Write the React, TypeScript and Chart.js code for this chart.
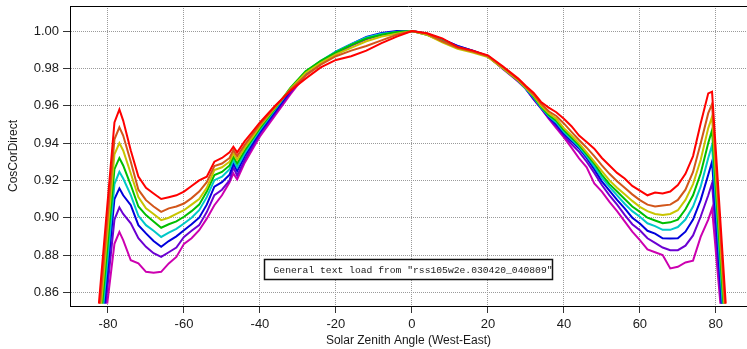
import React, { useEffect, useRef } from "react";
import { Chart, registerables } from "chart.js";

Chart.register(...registerables);

// Solar zenith angle grid shared by all series (interior points)
const ANGLES = [
  -78.3, -77, -76, -74, -72, -70, -68, -66, -64, -62,
  -60, -58, -56, -54, -52, -50, -48, -47, -46, -44,
  -42, -40, -36, -32, -28, -24, -20, -16, -12, -8,
  -4, 0, 4, 8, 12, 16, 20, 24, 28, 30,
  32, 34, 36, 38, 40, 42, 44, 46, 48, 50,
  52, 54, 56, 58, 60, 62, 64, 66, 68, 70,
  72, 74, 76, 78, 79,
];

// Where each curve leaves / reaches the bottom edge
const START_ANGLES = [-82.4, -82.1, -81.8, -81.5, -81.2, -80.9, -80.6, -80.2];
const END_ANGLES = [82.6, 82.4, 82.2, 82.0, 81.8, 81.6, 81.4, 81.2];
const EDGE_VALUE = 0.854;

const RED = [
  0.951, 0.958, 0.952, 0.936, 0.922, 0.916, 0.913, 0.910, 0.911, 0.912,
  0.914, 0.917, 0.920, 0.922, 0.930, 0.932, 0.935, 0.938, 0.935, 0.941,
  0.946, 0.951, 0.960, 0.968, 0.9745, 0.9805, 0.9845, 0.9865, 0.9895, 0.9935,
  0.997, 1.0, 0.9988, 0.996, 0.9915, 0.9895, 0.987, 0.981, 0.9745, 0.9705,
  0.967, 0.962, 0.959, 0.9565, 0.953, 0.949, 0.944, 0.9405, 0.937, 0.932,
  0.928, 0.924, 0.921, 0.917, 0.9145, 0.912, 0.9135, 0.913, 0.914, 0.9175,
  0.9235, 0.933, 0.9505, 0.9666, 0.9675,
];
const ORANGE = [
  0.942, 0.9484, 0.944, 0.930, 0.915, 0.9094, 0.906, 0.9031, 0.905, 0.906,
  0.9076, 0.9105, 0.914, 0.919, 0.9276, 0.929, 0.932, 0.9362, 0.933, 0.939,
  0.9445, 0.950, 0.9595, 0.9685, 0.976, 0.982, 0.9865, 0.9895, 0.992, 0.995,
  0.998, 1.0, 0.9985, 0.9945, 0.991, 0.989, 0.9865, 0.9805, 0.974, 0.970,
  0.966, 0.961, 0.957, 0.9545, 0.9505, 0.946, 0.9416, 0.9375, 0.933, 0.928,
  0.9235, 0.9195, 0.916, 0.9125, 0.9094, 0.907, 0.906, 0.9065, 0.907, 0.9095,
  0.915, 0.9245, 0.9398, 0.956, 0.9609,
];
const YELLOW = [
  0.934, 0.940, 0.936, 0.9237, 0.911, 0.905, 0.902, 0.8987, 0.900, 0.902,
  0.904, 0.907, 0.910, 0.916, 0.9255, 0.927, 0.930, 0.9344, 0.931, 0.9375,
  0.943, 0.949, 0.959, 0.969, 0.9775, 0.983, 0.9875, 0.991, 0.9945, 0.997,
  0.9985, 1.0, 0.998, 0.994, 0.9905, 0.9885, 0.986, 0.980, 0.9735, 0.9695,
  0.9655, 0.960, 0.956, 0.953, 0.948, 0.944, 0.9398, 0.935, 0.930, 0.925,
  0.920, 0.916, 0.9125, 0.909, 0.9058, 0.9035, 0.902, 0.9015, 0.902, 0.904,
  0.9095, 0.918, 0.9309, 0.948, 0.954,
];
const GREEN = [
  0.926, 0.932, 0.928, 0.9175, 0.906, 0.9014, 0.898, 0.8946, 0.8965, 0.898,
  0.9005, 0.9035, 0.907, 0.914, 0.9228, 0.9245, 0.928, 0.9326, 0.929, 0.936,
  0.942, 0.948, 0.9585, 0.9695, 0.9785, 0.984, 0.9885, 0.9925, 0.996, 0.998,
  0.9995, 1.0, 0.998, 0.9945, 0.991, 0.989, 0.9865, 0.980, 0.9735, 0.9695,
  0.965, 0.9595, 0.955, 0.952, 0.947, 0.943, 0.9389, 0.934, 0.929, 0.923,
  0.918, 0.914, 0.910, 0.906, 0.9031, 0.900, 0.8985, 0.897, 0.8975, 0.899,
  0.9045, 0.912, 0.9237, 0.940, 0.9469,
];
const CYAN = [
  0.918, 0.9246, 0.921, 0.9121, 0.901, 0.896, 0.893, 0.8897, 0.892, 0.894,
  0.8969, 0.900, 0.904, 0.911, 0.9201, 0.922, 0.926, 0.9309, 0.927, 0.9345,
  0.941, 0.947, 0.958, 0.969, 0.978, 0.984, 0.989, 0.993, 0.9965, 0.9985,
  0.9995, 1.0, 0.9985, 0.995, 0.9915, 0.989, 0.9865, 0.980, 0.9735, 0.969,
  0.9645, 0.959, 0.9545, 0.951, 0.946, 0.942, 0.938, 0.933, 0.9275, 0.9215,
  0.9165, 0.912, 0.9075, 0.9035, 0.9005, 0.897, 0.8955, 0.8935, 0.8935, 0.895,
  0.899, 0.906, 0.9166, 0.932, 0.9389,
];
const BLUE = [
  0.910, 0.9157, 0.912, 0.9067, 0.896, 0.8916, 0.8875, 0.8844, 0.8875, 0.890,
  0.8933, 0.8965, 0.900, 0.907, 0.9166, 0.919, 0.923, 0.9291, 0.925, 0.933,
  0.9395, 0.946, 0.957, 0.968, 0.9775, 0.9835, 0.989, 0.993, 0.9968, 0.999,
  1.0, 1.0, 0.9985, 0.9955, 0.992, 0.9895, 0.9865, 0.980, 0.9735, 0.969,
  0.964, 0.9588, 0.954, 0.950, 0.945, 0.941, 0.9371, 0.932, 0.926, 0.9195,
  0.9145, 0.9095, 0.905, 0.900, 0.8969, 0.893, 0.8915, 0.889, 0.8889, 0.889,
  0.8925, 0.899, 0.9094, 0.923, 0.930,
];
const PURPLE = [
  0.899, 0.9055, 0.902, 0.897, 0.889, 0.8844, 0.881, 0.879, 0.8815, 0.884,
  0.8897, 0.893, 0.896, 0.903, 0.9121, 0.915, 0.920, 0.927, 0.9225, 0.931,
  0.938, 0.945, 0.956, 0.967, 0.977, 0.983, 0.988, 0.9925, 0.996, 0.9985,
  0.9995, 1.0, 0.9985, 0.9955, 0.992, 0.9895, 0.9865, 0.980, 0.973, 0.969,
  0.9635, 0.9585, 0.9535, 0.949, 0.944, 0.9395, 0.9353, 0.930, 0.924, 0.9175,
  0.912, 0.907, 0.9015, 0.8965, 0.8933, 0.889, 0.8865, 0.884, 0.8826, 0.8826,
  0.885, 0.8905, 0.9005, 0.912, 0.9184,
];
const MAGENTA = [
  0.886, 0.8924, 0.888, 0.8772, 0.8755, 0.871, 0.8705, 0.871, 0.8755, 0.879,
  0.886, 0.889, 0.8933, 0.8995, 0.9067, 0.912, 0.919, 0.9237, 0.9205, 0.9295,
  0.9365, 0.9435, 0.9548, 0.966, 0.9765, 0.9825, 0.9875, 0.992, 0.9955, 0.998,
  0.9995, 1.0, 0.998, 0.995, 0.9915, 0.989, 0.9865, 0.9795, 0.973, 0.969,
  0.9635, 0.9585, 0.953, 0.948, 0.943, 0.9375, 0.9318, 0.927, 0.9184, 0.914,
  0.9085, 0.9035, 0.898, 0.8925, 0.888, 0.883, 0.8815, 0.880, 0.8728, 0.8737,
  0.876, 0.877, 0.8897, 0.899, 0.905,
];

const SERIES = [RED, ORANGE, YELLOW, GREEN, CYAN, BLUE, PURPLE, MAGENTA];
const SERIES_COLORS = ["#ff0000", "#d2561a", "#c8c400", "#00bf00", "#00c8c8", "#0000dc", "#6c00d2", "#cc00b0"];

const X_TICKS = [-80, -60, -40, -20, 0, 20, 40, 60, 80];
const Y_TICKS = [0.86, 0.88, 0.9, 0.92, 0.94, 0.96, 0.98, 1.0];
const X_TITLE = "Solar Zenith Angle (West-East)";
const Y_TITLE = "CosCorDirect";
const NOTE = 'General text load from "rss105w2e.030420_040809"';
const NOTE_ANGLE = -39;
const NOTE_VALUE = 0.8778;

const framePlugin = {
  id: "frameAndNote",
  afterDraw(chart: any) {
    const { ctx, chartArea, scales } = chart;
    ctx.save();
    ctx.strokeStyle = "#000";
    ctx.lineWidth = 1;
    ctx.beginPath();
    ctx.moveTo(chartArea.left, chartArea.top + 0.5);
    ctx.lineTo(chartArea.right, chartArea.top + 0.5);
    ctx.stroke();

    const bx = Math.round(scales.x.getPixelForValue(NOTE_ANGLE)) + 0.5;
    const by = Math.round(scales.y.getPixelForValue(NOTE_VALUE)) + 0.5;
    const w = 288;
    const h = 20;
    ctx.fillStyle = "#fff";
    ctx.fillRect(bx, by, w, h);
    ctx.lineWidth = 1.5;
    ctx.strokeStyle = "#111";
    ctx.strokeRect(bx, by, w, h);
    ctx.font = '9.7px "Liberation Mono", "DejaVu Sans Mono", monospace';
    ctx.fillStyle = "#222";
    ctx.textBaseline = "middle";
    ctx.textAlign = "left";
    ctx.fillText(NOTE, bx + 9, by + h / 2 + 0.5);
    ctx.restore();
  },
};

export default function App() {
  const ref = useRef<HTMLCanvasElement | null>(null);

  useEffect(() => {
    if (!ref.current) return;
    const datasets = SERIES.map((vals, si) => ({
      label: `s${si}`,
      data: [
        { x: START_ANGLES[si], y: EDGE_VALUE },
        ...ANGLES.map((a, i) => ({ x: a, y: vals[i] })),
        { x: END_ANGLES[si], y: EDGE_VALUE },
      ],
      borderColor: SERIES_COLORS[si],
      backgroundColor: SERIES_COLORS[si],
      borderWidth: 2,
      pointRadius: 0,
      tension: 0,
      fill: false,
    }));

    const tickFont = { family: '"Liberation Sans", Arial, sans-serif', size: 13 };
    const titleFont = { family: '"Liberation Sans", Arial, sans-serif', size: 12 };

    const chart = new Chart(ref.current, {
      type: "line",
      data: { datasets },
      plugins: [framePlugin],
      options: {
        animation: false,
        responsive: false,
        devicePixelRatio: 1,
        layout: { padding: { top: 6, right: 0, left: 0, bottom: 0 } },
        plugins: { legend: { display: false }, tooltip: { enabled: false } },
        scales: {
          x: {
            type: "linear",
            min: -90,
            max: 88.2,
            afterFit: (s: any) => {
              s.height = 43;
              s.paddingLeft = 0;
              s.paddingRight = 0;
            },
            afterBuildTicks: (s: any) => {
              s.ticks = X_TICKS.map((v) => ({ value: v }));
            },
            ticks: {
              font: tickFont,
              color: "#1a1a1a",
              padding: 4,
              maxRotation: 0,
              autoSkip: false,
              callback: (v: any) => String(v),
            },
            grid: {
              color: "#9a9a9a",
              lineWidth: 1,
              tickColor: "#333",
              tickLength: 7,
              tickBorderDash: [],
            },
            border: { display: true, color: "#000", width: 1, dash: [1, 1] },
            title: {
              display: true,
              text: X_TITLE,
              font: titleFont,
              color: "#1a1a1a",
              padding: { top: 0, bottom: 1 },
            },
          },
          y: {
            type: "linear",
            min: 0.8527,
            max: 1.0134,
            afterFit: (s: any) => {
              s.width = 70;
              s.paddingTop = 0;
              s.paddingBottom = 0;
            },
            afterBuildTicks: (s: any) => {
              s.ticks = Y_TICKS.map((v) => ({ value: v }));
            },
            ticks: {
              font: tickFont,
              color: "#1a1a1a",
              padding: 4,
              autoSkip: false,
              callback: (v: any) => Number(v).toFixed(2),
            },
            grid: {
              color: "#9a9a9a",
              lineWidth: 1,
              tickColor: "#333",
              tickLength: 7,
              tickBorderDash: [],
            },
            border: { display: true, color: "#000", width: 1, dash: [1, 1] },
            title: {
              display: true,
              text: Y_TITLE,
              font: titleFont,
              color: "#1a1a1a",
              padding: { top: 6, bottom: 0 },
            },
          },
        },
      },
    } as any);
    return () => chart.destroy();
  }, []);

  return (
    <div style={{ position: "absolute", left: 0, top: 0, width: 747, height: 349, background: "#fff" }}>
      <canvas ref={ref} width={747} height={349} style={{ display: "block", width: 747, height: 349 }} />
    </div>
  );
}
